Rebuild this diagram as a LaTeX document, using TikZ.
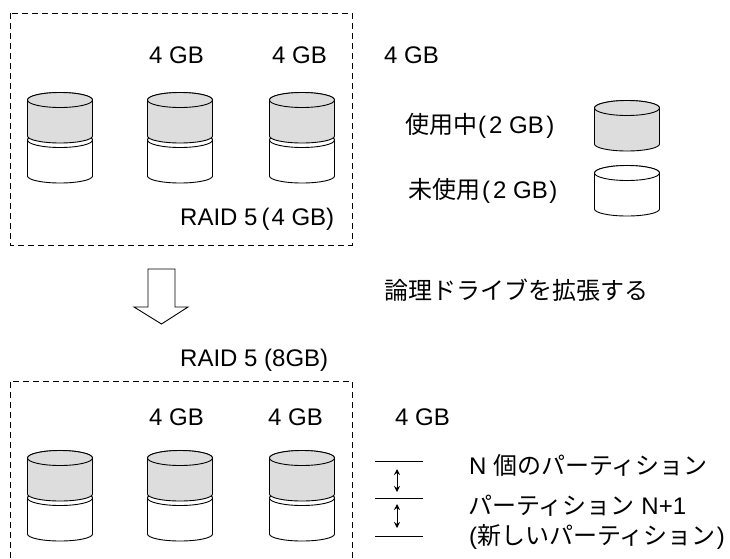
\documentclass[tikz,border=0pt]{standalone}
\usepackage{fontspec}
\setmainfont{Liberation Sans}
\usetikzlibrary{arrows.meta}
\newfontfamily\jpfont{Noto Sans CJK JP}
\definecolor{usedgray}{HTML}{DDDDDD}
\newcommand{\jp}[1]{{\jpfont #1}}
\tikzset{
	label/.style={anchor=base west,inner sep=0pt,font=\fontsize{24}{28}\selectfont},
	dashbox/.style={line width=0.9pt,dash pattern=on 6pt off 4pt},
	rule/.style={line width=0.9pt},
	disk/.pic={
		\draw[line width=0.9pt,fill=#1] (-32.5,0) -- (-32.5,36) arc[start angle=180,end angle=0,x radius=32.5,y radius=7] -- (32.5,0)
			arc[start angle=0,end angle=-180,x radius=32.5,y radius=7.5] -- cycle;
		\draw[line width=0.9pt,fill=#1] (0,0) ellipse[x radius=32.5,y radius=7.5];
	}
}
\begin{document}
\begin{tikzpicture}[x=1pt,y=-1pt]
	\useasboundingbox (0,0) rectangle (730,558);
	% dashed frames
	\draw[dashbox] (10,13) rectangle (352,245);
	\draw[dashbox] (10,558) -- (10,381) -- (352,381) -- (352,558);
	% disks
	\foreach \y in {0,358}
		\foreach \x in {60,180,302}{
			\pic at (\x,140+\y) {disk=white};
			\pic at (\x,100+\y) {disk=usedgray};
		}
	\pic at (627,108) {disk=usedgray};
	\pic at (627,173) {disk=white};
	% arrow
	\draw[line width=0.9pt] (148,269) -- (175,269) -- (175,307) -- (188,307) -- (161.5,324) -- (134,307) -- (148,307) -- cycle;
	% top labels
	\node[label] (sizea) at (149,63) {4 GB};
	\node[label] (sizeb) at (272,63) {4 GB};
	\node[label] (sizec) at (384,63) {4 GB};
	\node[label] (raidold) at (180,225) {RAID 5\hspace{4pt}(\hspace{2pt}4 GB)};
	\node[label] (used) at (405,133) {\jp{使用中}\hspace{1pt}(\hspace{3pt}2 GB\hspace{2.5pt})};
	\node[label] (free) at (408,198) {\jp{未使用}\hspace{2pt}(\hspace{3pt}2 GB\hspace{1.5pt})};
	\node[label] (grow) at (384,299) {\jp{論理ドライブを拡張する}};
	% bottom labels
	\node[label] (raidnew) at (180,366) {RAID 5 (8GB)};
	\node[label] (sized) at (149,425) {4 GB};
	\node[label] (sizee) at (268,425) {4 GB};
	\node[label] (sizef) at (395,425) {4 GB};
	\node[label] (parts) at (469,474) {N \jp{個のパーティション}};
	\node[label] (partnew) at (468,514) {\jp{パーティション} N+1};
	\node[label] (partnote) at (469,544) {(\jp{新しいパーティション}\hspace{1pt})};
	% partition scale
	\foreach \y/\n in {461/a,498.5/b,536/c}{
		\coordinate (l\n) at (375,\y);
		\coordinate (r\n) at (423,\y);
		\draw[rule] (l\n) -- (r\n);
	}
	\coordinate (ta) at (397,469);
	\coordinate (ba) at (397,492);
	\coordinate (tb) at (397,504);
	\coordinate (bb) at (397,528);
	\draw[rule,{Stealth[length=6pt,width=6pt]}-{Stealth[length=6pt,width=6pt]}] (ta) -- (ba);
	\draw[rule,{Stealth[length=6pt,width=6pt]}-{Stealth[length=6pt,width=6pt]}] (tb) -- (bb);
\end{tikzpicture}
\end{document}
